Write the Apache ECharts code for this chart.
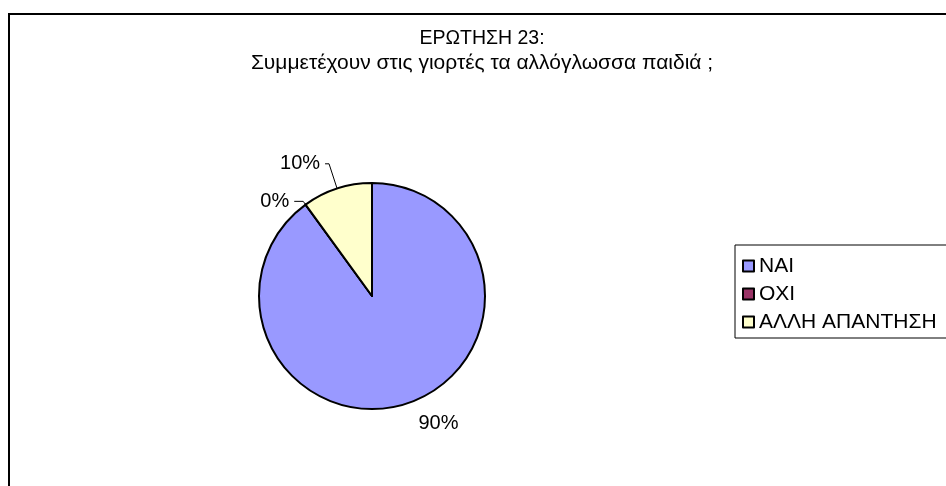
<!DOCTYPE html>
<html>
<head>
<meta charset="utf-8">
<script src="https://cdn.jsdelivr.net/npm/echarts@6/dist/echarts.min.js"></script>
<style>
  html, body { margin: 0; padding: 0; background: #fff; }
  #chart { width: 946px; height: 486px; }
</style>
</head>
<body>
<div id="chart"></div>
<script>
// data
var categories = ['ΝΑΙ', 'ΟΧΙ', 'ΑΛΛΗ ΑΠΑΝΤΗΣΗ'];
var values = [90, 0, 10];
var colors = ['#9999ff', '#993366', '#ffffcc'];
var titleLines = ['ΕΡΩΤΗΣΗ 23:', 'Συμμετέχουν στις γιορτές τα αλλόγλωσσα παιδιά ;'];

var font = 'Liberation Sans, Arial, sans-serif';
// leader line per slice (excel style)
var leaders = [
  {show: false, length: 21, length2: 0},
  {show: true, length: 4, length2: 9},
  {show: true, length: 26, length2: 4}
];

var chart = echarts.init(document.getElementById('chart'));

var seriesData = categories.map(function (name, i) {
  return {
    name: name,
    value: values[i],
    itemStyle: {color: colors[i]},
    labelLine: leaders[i]
  };
});

var option = {
  animation: false,
  backgroundColor: '#fff',
  title: {
    text: '{a|' + titleLines[0] + '}\n{b|' + titleLines[1] + '}',
    left: 482, top: 26, padding: 0,
    textAlign: 'center',
    textStyle: {
      fontFamily: font, fontWeight: 'normal', color: '#000',
      rich: {
        a: {fontFamily: font, fontSize: 19.5, color: '#000', lineHeight: 25, align: 'center'},
        b: {fontFamily: font, fontSize: 21, color: '#000', lineHeight: 25, align: 'center'}
      }
    }
  },
  legend: {
    orient: 'vertical',
    left: 735, top: 245,
    padding: [9, 20, 4, 7],
    borderColor: '#000', borderWidth: 1,
    itemWidth: 11, itemHeight: 11, itemGap: 4,
    icon: 'rect',
    itemStyle: {borderColor: '#000', borderWidth: 2},
    textStyle: {fontFamily: font, fontSize: 21, color: '#000', lineHeight: 24},
    data: categories
  },
  graphic: [{
    type: 'rect', silent: true,
    shape: {x: 9, y: 14, width: 1000, height: 1000},
    style: {fill: null, stroke: '#000', lineWidth: 2}
  }],
  series: [{
    type: 'pie',
    center: [372, 296],
    radius: 113,
    startAngle: 90,
    clockwise: true,
    avoidLabelOverlap: false,
    percentPrecision: 0,
    itemStyle: {borderColor: '#000', borderWidth: 2},
    emphasis: {disabled: true},
    label: {
      show: true, position: 'outside',
      formatter: '{d}%',
      fontFamily: font, fontSize: 20, color: '#000'
    },
    labelLine: {lineStyle: {color: '#000', width: 1}, smooth: false},
    data: seriesData
  }]
};

chart.setOption(option);
</script>
</body>
</html>
